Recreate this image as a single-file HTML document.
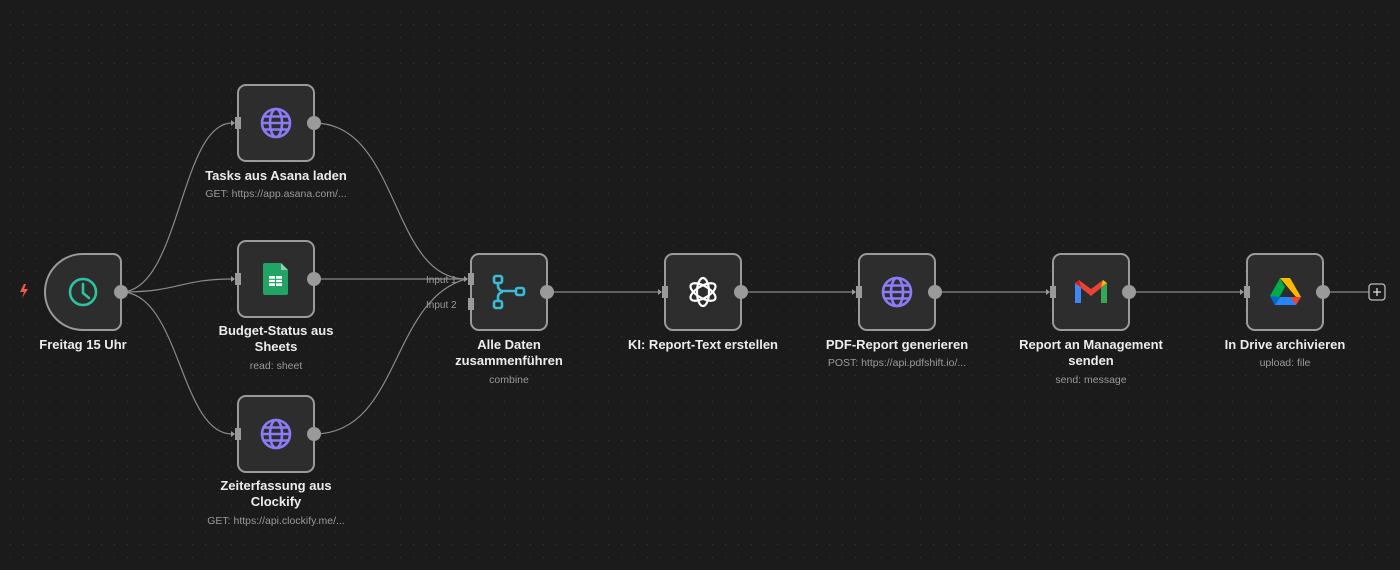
<!DOCTYPE html>
<html><head><meta charset="utf-8"><style>
html,body{margin:0;padding:0;background:#1b1b1b;}
body{width:1400px;height:570px;overflow:hidden;}
svg{display:block;}
.t{font-family:"Liberation Sans",sans-serif;font-size:13px;font-weight:bold;fill:#ececec;text-anchor:middle;}
.s{font-family:"Liberation Sans",sans-serif;font-size:10.5px;fill:#9a9a9a;text-anchor:middle;}
.l{font-family:"Liberation Sans",sans-serif;font-size:10px;fill:#9a9a9a;}
.box{fill:#2d2d2d;stroke:#9b9b9b;stroke-width:2;}
.e{fill:none;stroke:#8a8a8a;stroke-width:1.2;}
.op{fill:#9a9a9a;}
.ip{fill:#9a9a9a;}
</style></head><body>
<svg width="1400" height="570" viewBox="0 0 1400 570" xmlns="http://www.w3.org/2000/svg">
<defs>
<pattern id="g" x="-2" y="-1" width="13" height="13" patternUnits="userSpaceOnUse"><rect x="12" y="12" width="1.3" height="1.3" fill="#363636"/></pattern>
<g id="globe" fill="none" stroke="#8b7cf6" stroke-width="2.6">
<circle cx="0" cy="0" r="14"/><ellipse cx="0" cy="0" rx="6" ry="14"/><line x1="-14" y1="0" x2="14" y2="0"/><line x1="-12" y1="-6.5" x2="12" y2="-6.5"/><line x1="-12" y1="6.5" x2="12" y2="6.5"/>
</g>
<g id="ip"><rect x="-3" y="-6" width="6" height="12" fill="#9a9a9a"/><path d="M-7,-3 L-3,0 L-7,3Z" fill="#9a9a9a"/></g>
</defs>
<rect width="1400" height="570" fill="#1b1b1b"/>
<rect width="1400" height="570" fill="url(#g)"/>

<!-- edges -->
<path class="e" d="M121,292 C180,292 180,123 232,123"/>
<path class="e" d="M121,292 C180,292 180,279 232,279"/>
<path class="e" d="M121,292 C180,292 180,434 232,434"/>
<path class="e" d="M314,123 C400,123 390,279 466,279"/>
<path class="e" d="M314,279 L466,279"/>
<path class="e" d="M314,434 C400,434 390,300 466,279"/>
<path class="e" d="M547,292 L660,292"/>
<path class="e" d="M741,292 L854,292"/>
<path class="e" d="M935,292 L1048,292"/>
<path class="e" d="M1129,292 L1242,292"/>
<path class="e" d="M1323,292 L1369,292"/>
<rect x="1369" y="284" width="16" height="16" rx="3" fill="#1b1b1b" stroke="#bbb" stroke-width="1.3"/>
<path d="M1377,288 V296 M1373,292 H1381" stroke="#ddd" stroke-width="1.3"/>

<!-- trigger -->
<path d="M24,284 L20,292 L24,292 L22,298 L28,289 L24,289 L26,284Z" fill="#ef5a4c"/>
<path class="box" d="M83,254 H113 a8,8 0 0 1 8,8 V322 a8,8 0 0 1 -8,8 H83 a38,38 0 0 1 -38,-38 V292 a38,38 0 0 1 38,-38Z"/>
<circle cx="83" cy="292" r="13" fill="none" stroke="#2bc4a0" stroke-width="2.6"/>
<path d="M83,284 V293 L89,298" fill="none" stroke="#2bc4a0" stroke-width="2.6" stroke-linecap="round"/>
<circle cx="121" cy="292" r="7" class="op"/>
<text class="t" x="83" y="349">Freitag 15 Uhr</text>

<!-- Asana -->
<rect class="box" x="238" y="85" width="76" height="76" rx="8"/>
<use href="#globe" x="276" y="123"/>
<use href="#ip" x="238" y="123"/>
<circle cx="314" cy="123" r="7" class="op"/>
<text class="t" x="276" y="180">Tasks aus Asana laden</text>
<text class="s" x="276" y="197">GET: https://app.asana.com/...</text>

<!-- Sheets -->
<rect class="box" x="238" y="241" width="76" height="76" rx="8"/>
<path d="M265,263 H281 L288,270 V293 a2,2 0 0 1 -2,2 H265 a2,2 0 0 1 -2,-2 V265 a2,2 0 0 1 2,-2Z" fill="#21a464"/>
<path d="M281,263 L288,270 H281Z" fill="#8ed1b1"/>
<rect x="269" y="276" width="13" height="10" fill="#fff"/>
<path d="M269,279.3 H282 M269,282.6 H282 M275.5,276 V286" stroke="#21a464" stroke-width="1.2"/>
<use href="#ip" x="238" y="279"/>
<circle cx="314" cy="279" r="7" class="op"/>
<text class="t" x="276" y="335">Budget-Status aus</text>
<text class="t" x="276" y="351">Sheets</text>
<text class="s" x="276" y="369">read: sheet</text>

<!-- Clockify -->
<rect class="box" x="238" y="396" width="76" height="76" rx="8"/>
<use href="#globe" x="276" y="434"/>
<use href="#ip" x="238" y="434"/>
<circle cx="314" cy="434" r="7" class="op"/>
<text class="t" x="276" y="490">Zeiterfassung aus</text>
<text class="t" x="276" y="506">Clockify</text>
<text class="s" x="276" y="524">GET: https://api.clockify.me/...</text>

<!-- Merge -->
<rect class="box" x="471" y="254" width="76" height="76" rx="8"/>
<g fill="none" stroke="#3bbbd6" stroke-width="2.6">
<rect x="494" y="276" width="8" height="7" rx="2"/>
<rect x="494" y="301" width="8" height="7" rx="2"/>
<rect x="516" y="288" width="8" height="7" rx="2"/>
<path d="M498,283 V286 a5,5 0 0 0 5,5 H516 M498,301 V297 a5,5 0 0 1 5,-5"/>
</g>
<text class="l" x="426" y="283">Input 1</text>
<text class="l" x="426" y="308">Input 2</text>
<use href="#ip" x="471" y="279"/>
<rect x="468" y="298" width="6" height="12" class="ip"/>
<circle cx="547" cy="292" r="7" class="op"/>
<text class="t" x="509" y="349">Alle Daten</text>
<text class="t" x="509" y="365">zusammenführen</text>
<text class="s" x="509" y="383">combine</text>

<!-- KI -->
<rect class="box" x="665" y="254" width="76" height="76" rx="8"/>
<g fill="none" stroke="#fff" stroke-width="2.2" transform="translate(703,292)">
<ellipse rx="6" ry="14"/>
<ellipse rx="6" ry="14" transform="rotate(60)"/>
<ellipse rx="6" ry="14" transform="rotate(120)"/>
</g>
<use href="#ip" x="665" y="292"/>
<circle cx="741" cy="292" r="7" class="op"/>
<text class="t" x="703" y="349">KI: Report-Text erstellen</text>

<!-- PDF -->
<rect class="box" x="859" y="254" width="76" height="76" rx="8"/>
<use href="#globe" x="897" y="292"/>
<use href="#ip" x="859" y="292"/>
<circle cx="935" cy="292" r="7" class="op"/>
<text class="t" x="897" y="349">PDF-Report generieren</text>
<text class="s" x="897" y="366">POST: https://api.pdfshift.io/...</text>

<!-- Gmail -->
<rect class="box" x="1053" y="254" width="76" height="76" rx="8"/>
<path d="M1075,283 V303 H1081 V287Z" fill="#4285f4"/>
<path d="M1101,287 V303 H1107 V283Z" fill="#34a853"/>
<path d="M1075,283 L1091,296 L1107,283 L1103,280 L1091,289 L1079,280Z" fill="#ea4335"/>
<path d="M1075,283 L1079,280 L1081,287Z" fill="#c5221f"/>
<path d="M1107,283 L1103,280 L1101,287Z" fill="#fbbc04"/>
<use href="#ip" x="1053" y="292"/>
<circle cx="1129" cy="292" r="7" class="op"/>
<text class="t" x="1091" y="349">Report an Management</text>
<text class="t" x="1091" y="365">senden</text>
<text class="s" x="1091" y="383">send: message</text>

<!-- Drive -->
<rect class="box" x="1247" y="254" width="76" height="76" rx="8"/>
<path d="M1280,278 L1290,278 L1301,297 L1296,297Z" fill="#ffba00"/>
<path d="M1280,278 L1270,296 L1275,305 L1285,287Z" fill="#00ac47"/>
<path d="M1275,305 L1296,305 L1301,297 L1280,297Z" fill="#2684fc"/>
<path d="M1290,297 L1301,297 L1296,305Z" fill="#ea4335"/>
<path d="M1270,296 L1275,305 L1279,297Z" fill="#0066da"/>
<use href="#ip" x="1247" y="292"/>
<circle cx="1323" cy="292" r="7" class="op"/>
<text class="t" x="1285" y="349">In Drive archivieren</text>
<text class="s" x="1285" y="366">upload: file</text>
</svg>
</body></html>
